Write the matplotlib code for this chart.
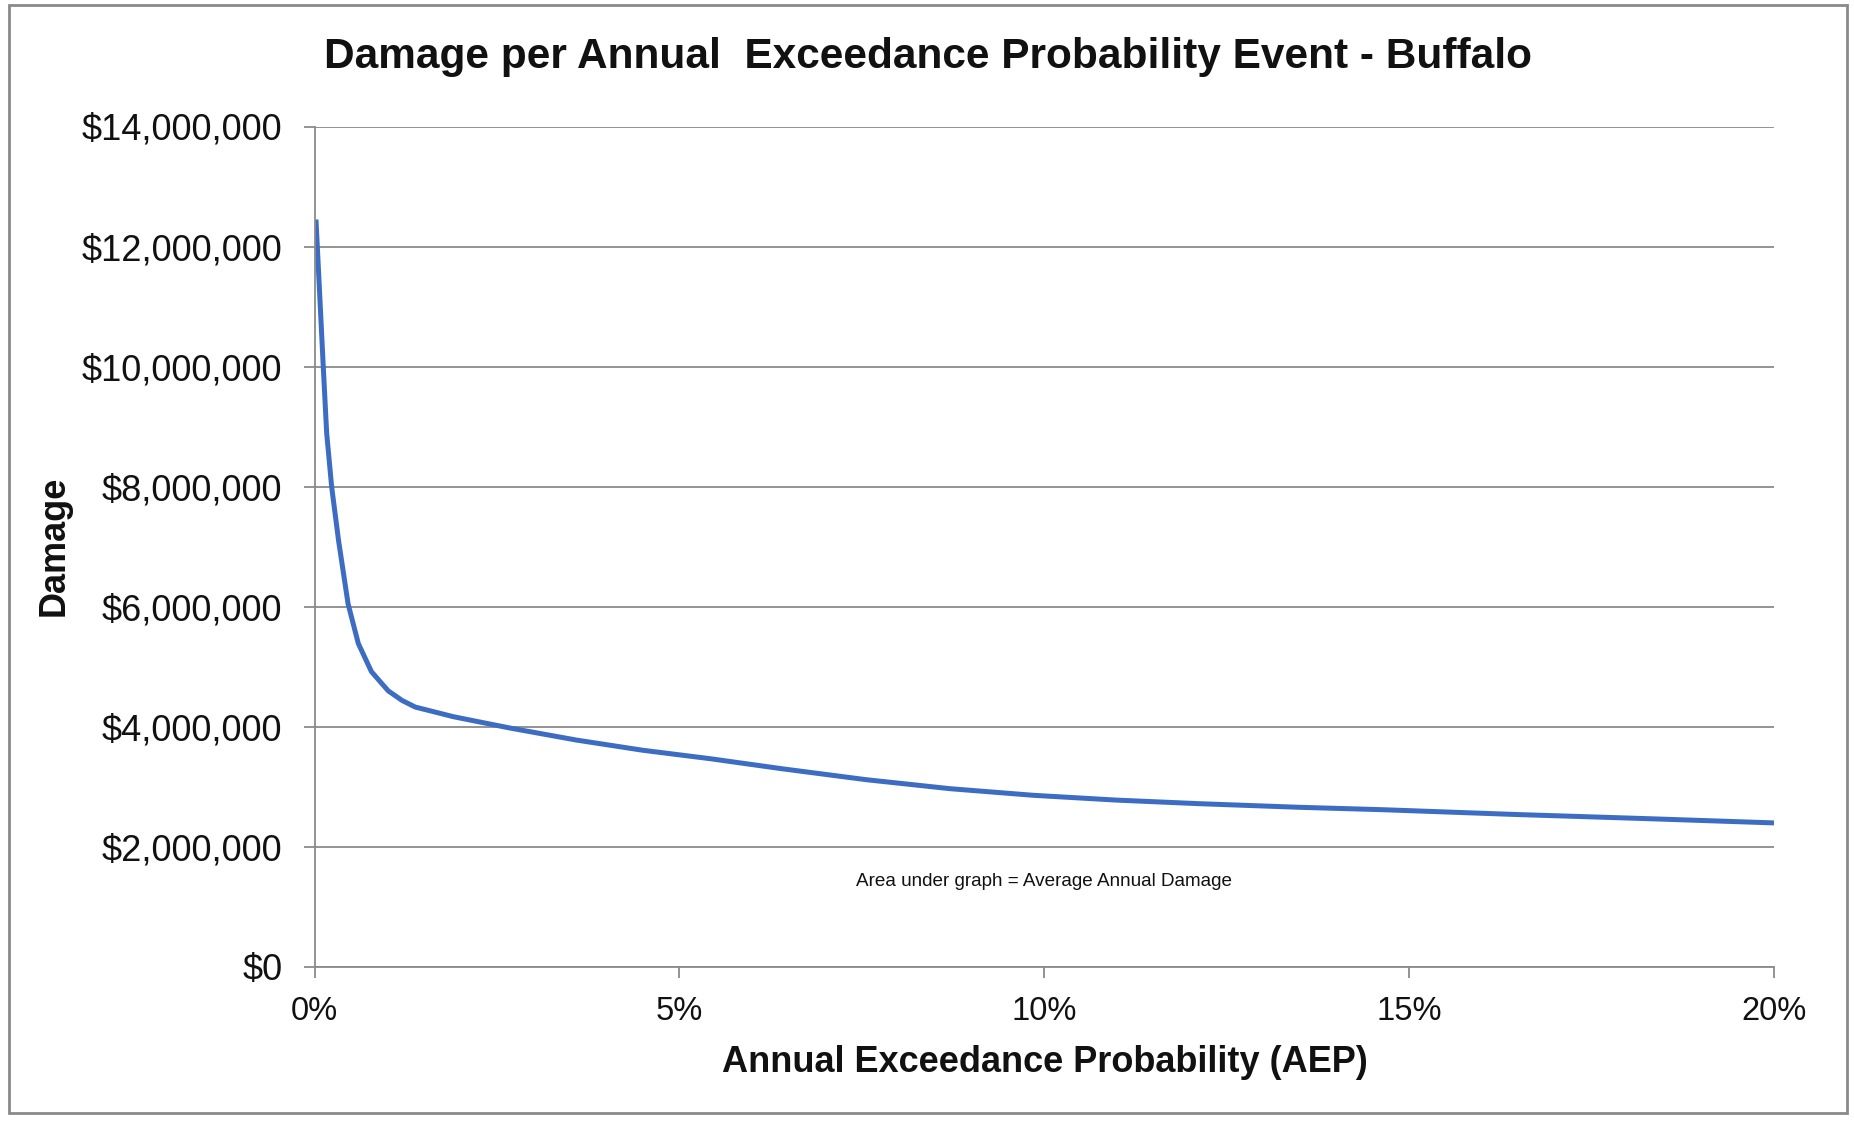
import matplotlib
matplotlib.use("Agg")
import matplotlib.pyplot as plt
from matplotlib.ticker import FuncFormatter
from matplotlib.patches import Rectangle

# Data (AEP in %, damage in $)
aep_pct = [0.02, 0.075, 0.12, 0.167, 0.235, 0.33, 0.46, 0.60, 0.78, 1.01,
           1.20, 1.38, 1.90, 2.68, 3.59, 4.50, 5.42, 6.42, 7.56, 8.71, 9.85,
           10.99, 12.13, 13.50, 14.64, 16.47, 18.29, 20.0]
damage = [12.45e6, 11.11e6, 10.00e6, 8.89e6, 8.00e6, 7.10e6, 6.05e6, 5.39e6,
          4.92e6, 4.60e6, 4.44e6, 4.33e6, 4.17e6, 3.98e6, 3.78e6, 3.61e6,
          3.47e6, 3.30e6, 3.12e6, 2.97e6, 2.86e6, 2.78e6, 2.72e6, 2.66e6,
          2.62e6, 2.54e6, 2.47e6, 2.40e6]
y_ticks = [0, 2e6, 4e6, 6e6, 8e6, 10e6, 12e6, 14e6]
x_ticks = [0, 5, 10, 15, 20]

title = "Damage per Annual  Exceedance Probability Event - Buffalo"
x_label = "Annual Exceedance Probability (AEP)"
y_label = "Damage"
note = "Area under graph = Average Annual Damage"

plt.rcParams['font.family'] = ['Liberation Sans', 'DejaVu Sans']

W, H = 1854, 1123
fig = plt.figure(figsize=(W / 100, H / 100), dpi=100)
fig.patch.set_facecolor('white')

ax = fig.add_axes([314.5 / W, 1 - 967 / H, (1774 - 314.5) / W, (967 - 126.5) / H])
ax.plot(aep_pct, damage, color='#3D6DC2', lw=3.6, solid_joinstyle='round',
        solid_capstyle='butt')

ax.set_xlim(0, 20)
ax.set_ylim(0, 14e6)
ax.set_xticks(x_ticks)
ax.set_yticks(y_ticks)
ax.xaxis.set_major_formatter(FuncFormatter(lambda v, p: f"{v:.0f}%"))
ax.yaxis.set_major_formatter(FuncFormatter(lambda v, p: f"${v:,.0f}"))

ax.grid(axis='y', color='#8a8a8a', lw=1.3)
ax.set_axisbelow(True)
for s in ['top', 'right']:
    ax.spines[s].set_visible(False)
for s in ['left', 'bottom']:
    ax.spines[s].set_color('#8a8a8a')
    ax.spines[s].set_linewidth(1.3)
ax.tick_params(axis='both', direction='out', length=8, width=1.3, color='#8a8a8a',
               labelcolor='#111111')
ax.tick_params(axis='y', pad=15, labelsize=26)
ax.tick_params(axis='x', pad=13, labelsize=23.5)

fig.text(928 / W, 1 - 57 / H, title, ha='center', va='center', fontsize=30.5,
         fontweight='bold', color='#111111')
fig.text(1045 / W, 1 - 1062 / H, x_label, ha='center', va='center', fontsize=26,
         fontweight='bold', color='#111111')
fig.text(54 / W, 1 - 546 / H, y_label, ha='center', va='center', fontsize=26,
         fontweight='bold', rotation=90, color='#111111')
ax.text(10.0, 1.42e6, note, ha='center', va='center', fontsize=13.6, color='#111111')

fig.patches.append(Rectangle((9 / W, 1 - 1113 / H), (1847 - 9) / W, (1113 - 5) / H,
                             transform=fig.transFigure, fill=False,
                             edgecolor='#8a8a8a', lw=2))

fig.savefig('out.png', dpi=100, facecolor='white')
